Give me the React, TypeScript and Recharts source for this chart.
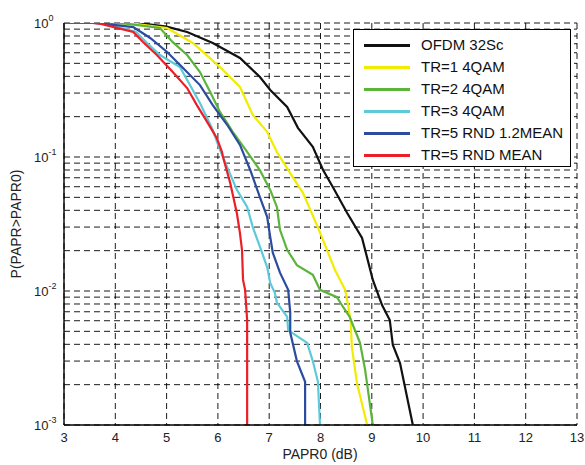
import React from "react";
import {
  LineChart,
  Line,
  XAxis,
  YAxis,
  CartesianGrid,
  Legend,
} from "recharts";

// PAPR0 (dB) / P(PAPR>PAPR0) pairs
const ofdmX = [3, 4.3, 4.54, 5.0, 5.4, 5.9, 6.43, 6.82, 7.02, 7.35, 7.56, 7.85, 8.05, 8.24, 8.52, 8.81, 9.02, 9.2, 9.35, 9.41, 9.55, 9.8];
const ofdmP = [1, 1, 0.99, 0.94, 0.857, 0.71, 0.548, 0.395, 0.316, 0.236, 0.165, 0.119, 0.08, 0.0597, 0.0382, 0.0249, 0.0121, 0.00786, 0.00608, 0.00396, 0.0029, 0.001];

const tr1X = [3, 4.1, 4.35, 5.01, 5.51, 6.04, 6.43, 6.68, 6.96, 7.15, 7.41, 7.66, 7.93, 8.05, 8.28, 8.48, 8.54, 8.59, 8.61, 8.71, 8.91];
const tr1P = [1, 1, 0.99, 0.918, 0.71, 0.469, 0.333, 0.206, 0.154, 0.109, 0.0758, 0.0538, 0.031, 0.024, 0.0144, 0.0102, 0.0078, 0.0058, 0.00385, 0.00206, 0.001];

const tr2X = [3, 3.9, 4.2, 4.87, 5.12, 5.4, 5.65, 5.85, 6.04, 6.29, 6.57, 6.82, 7.02, 7.15, 7.21, 7.35, 7.54, 7.85, 7.99, 8.32, 8.44, 8.57, 8.77, 8.87, 9.02];
const tr2P = [1, 1, 0.99, 0.918, 0.72, 0.577, 0.431, 0.306, 0.217, 0.154, 0.109, 0.0797, 0.0568, 0.0424, 0.0286, 0.0203, 0.0156, 0.0132, 0.0102, 0.009, 0.0076, 0.0064, 0.0041, 0.00258, 0.001];

const tr3X = [3, 3.6, 3.75, 4.4, 4.6, 4.87, 5.26, 5.65, 5.9, 6.04, 6.18, 6.37, 6.57, 6.68, 6.82, 6.96, 7.02, 7.11, 7.15, 7.35, 7.37, 7.74, 7.85, 7.95, 7.99];
const tr3P = [1, 1, 0.99, 0.86, 0.72, 0.577, 0.469, 0.253, 0.159, 0.113, 0.084, 0.0569, 0.0424, 0.03, 0.0213, 0.0151, 0.0115, 0.0097, 0.0082, 0.0064, 0.0051, 0.0041, 0.003, 0.0021, 0.001];

const rnd12X = [3, 3.6, 3.75, 4.35, 4.68, 5.01, 5.32, 5.65, 5.9, 6.18, 6.43, 6.63, 6.82, 6.96, 7.02, 7.07, 7.21, 7.37, 7.41, 7.41, 7.54, 7.7, 7.7];
const rnd12P = [1, 1, 0.99, 0.933, 0.773, 0.608, 0.462, 0.344, 0.244, 0.174, 0.123, 0.08, 0.05, 0.0358, 0.0253, 0.0193, 0.0137, 0.0102, 0.0069, 0.0049, 0.003, 0.0021, 0.001];

const rndX = [3, 3.55, 3.7, 4.35, 4.54, 4.81, 5.12, 5.4, 5.59, 5.79, 5.98, 6.08, 6.1, 6.24, 6.37, 6.43, 6.47, 6.49, 6.53, 6.57, 6.57];
const rndP = [1, 1, 0.99, 0.857, 0.721, 0.577, 0.431, 0.327, 0.244, 0.183, 0.138, 0.109, 0.1, 0.064, 0.038, 0.027, 0.0202, 0.0121, 0.0102, 0.0061, 0.001];

const xTicks = [3, 4, 5, 6, 7, 8, 9, 10, 11, 12, 13];
const yTicks = [
  0.001, 0.002, 0.003, 0.004, 0.005, 0.006, 0.007, 0.008, 0.009,
  0.01, 0.02, 0.03, 0.04, 0.05, 0.06, 0.07, 0.08, 0.09,
  0.1, 0.2, 0.3, 0.4, 0.5, 0.6, 0.7, 0.8, 0.9, 1,
];

const toPoints = (xs: number[], ps: number[]) => xs.map((x, i) => ({ x, p: ps[i] }));

const series = [
  { name: "OFDM 32Sc", color: "#111111", data: toPoints(ofdmX, ofdmP) },
  { name: "TR=1 4QAM", color: "#f2ec00", data: toPoints(tr1X, tr1P) },
  { name: "TR=2 4QAM", color: "#5cb53a", data: toPoints(tr2X, tr2P) },
  { name: "TR=3 4QAM", color: "#5ec9da", data: toPoints(tr3X, tr3P) },
  { name: "TR=5 RND 1.2MEAN", color: "#2c4c9f", data: toPoints(rnd12X, rnd12P) },
  { name: "TR=5 RND MEAN", color: "#ec1f27", data: toPoints(rndX, rndP) },
];

const FONT = "'Liberation Sans', Arial, Helvetica, sans-serif";

function YTick(props: any) {
  const { y, payload } = props;
  const v = payload.value as number;
  const e = Math.round(Math.log10(v));
  if (Math.abs(v - Math.pow(10, e)) > 1e-9) return null;
  return (
    <text x={34} y={y + 5} fontSize={13} fill="#222" fontFamily={FONT}>
      <tspan>10</tspan>
      <tspan dy={-7} fontSize={9}>{e}</tspan>
    </text>
  );
}

function LegendBox(props: any) {
  const items = props.payload || [];
  return (
    <div
      style={{
        width: 218,
        height: 138,
        border: "1px solid #000",
        background: "#fff",
        fontFamily: FONT,
        fontSize: 15,
        color: "#111",
        paddingTop: 4,
        boxSizing: "border-box",
      }}
    >
      {items.map((it: any) => (
        <div key={it.value} style={{ display: "flex", alignItems: "center", height: 22 }}>
          <div style={{ width: 46, height: 3, marginLeft: 10, background: it.color }} />
          <span style={{ marginLeft: 11, lineHeight: "16px" }}>{it.value}</span>
        </div>
      ))}
    </div>
  );
}

export default function App() {
  return (
    <div style={{ position: "absolute", left: 0, top: 0, background: "#fff" }}>
      <LineChart width={585} height={465} margin={{ top: 23, right: 8, bottom: 0, left: 0 }}>
        <CartesianGrid stroke="#000" strokeDasharray="6 4" strokeWidth={0.9} />
        <XAxis
          dataKey="x"
          type="number"
          domain={[3, 13]}
          ticks={xTicks}
          allowDataOverflow
          height={40}
          tickLine={false}
          stroke="#000"
          strokeWidth={1.4}
          tick={{ fontSize: 13, fill: "#222", fontFamily: FONT }}
          label={() => (
            <text x={320} y={459} textAnchor="middle" fontSize={14} fill="#222" fontFamily={FONT}>
              PAPR0 (dB)
            </text>
          )}
        />
        <XAxis
          xAxisId="top"
          orientation="top"
          type="number"
          domain={[3, 13]}
          height={0}
          tick={false}
          tickLine={false}
          stroke="#000"
          strokeWidth={1.4}
        />
        <YAxis
          type="number"
          scale="log"
          domain={[0.001, 1]}
          ticks={yTicks}
          allowDataOverflow
          width={64}
          tickLine={false}
          stroke="#000"
          strokeWidth={1.4}
          tick={<YTick />}
          interval={0}
          label={() => (
            <text
              x={21}
              y={224}
              transform="rotate(-90 21 224)"
              textAnchor="middle"
              fontSize={14}
              fill="#222"
              fontFamily={FONT}
            >
              P(PAPR&gt;PAPR0)
            </text>
          )}
        />
        <YAxis
          yAxisId="right"
          orientation="right"
          type="number"
          scale="log"
          domain={[0.001, 1]}
          width={0}
          tick={false}
          tickLine={false}
          stroke="#000"
          strokeWidth={1.4}
        />
        <Legend
          layout="vertical"
          verticalAlign="middle"
          align="center"
          content={<LegendBox />}
          wrapperStyle={{ position: "absolute", left: 353, top: 29, width: 218 }}
        />
        {series.map((s) => (
          <Line
            key={s.name}
            name={s.name}
            data={s.data}
            dataKey="p"
            type="linear"
            stroke={s.color}
            strokeWidth={2.2}
            dot={false}
            isAnimationActive={false}
          />
        ))}
      </LineChart>
    </div>
  );
}
